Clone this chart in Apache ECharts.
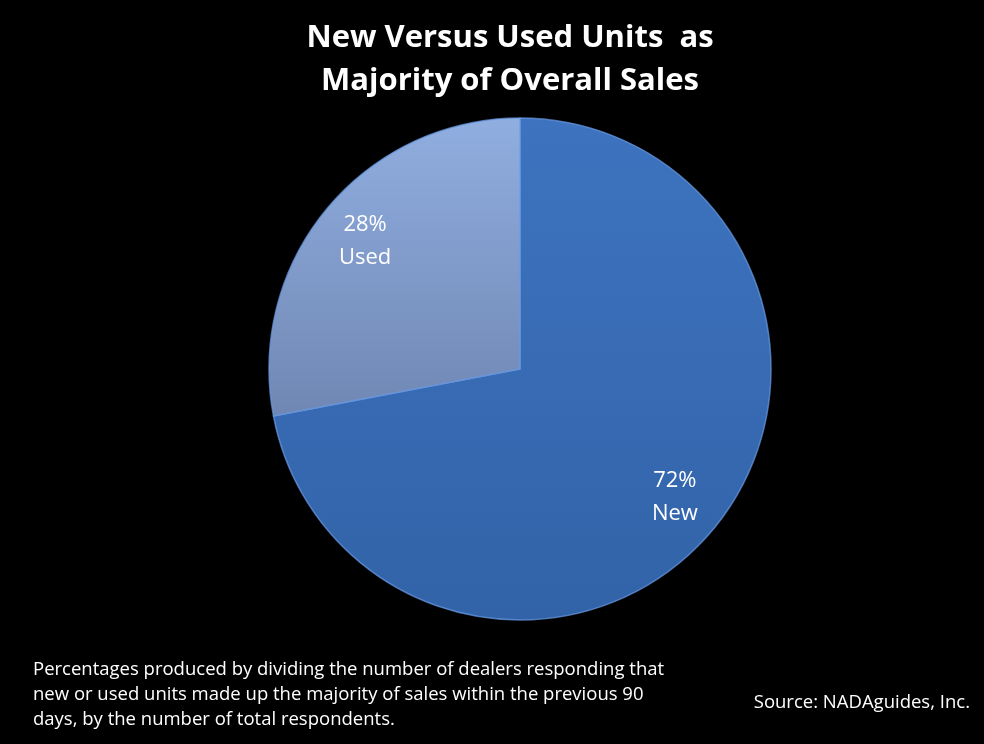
<!DOCTYPE html>
<html>
<head>
<meta charset="utf-8">
<script src="https://cdn.jsdelivr.net/npm/echarts@6/dist/echarts.min.js"></script>
<style>
  html, body { margin: 0; padding: 0; background: #000; }
  #chart { width: 984px; height: 744px; }
</style>
</head>
<body>
<div id="chart"></div>
<script>
// 新车 / 二手车 占比
var nameList = ['New', 'Used'];
var numList = [72, 28];
var titleLines = ['New Versus Used Units  as', 'Majority of Overall Sales'];
var noteLines = [
    'Percentages produced by dividing the number of dealers responding that',
    'new or used units made up the majority of sales within the previous 90',
    'days, by the number of total respondents.'
];
var sourceText = 'Source: NADAguides, Inc.';

var sliceColors = [
    {top: '#3d73bf', bottom: '#3263a8'},
    {top: '#90aee0', bottom: '#7087b3'}
];

function graphicNewUsed() {
    var myChart = echarts.init(document.getElementById('chart'));
    var pieData = [];
    for (var i = 0; i < nameList.length; i++) {
        pieData.push({
            name: nameList[i],
            value: numList[i],
            itemStyle: {
                color: new echarts.graphic.LinearGradient(0, 0, 0, 1, [
                    {offset: 0, color: sliceColors[i].top},
                    {offset: 1, color: sliceColors[i].bottom}
                ])
            }
        });
    }
    var font = '"Open Sans", "Noto Sans", sans-serif';
    var graphics = [];
    for (var t = 0; t < titleLines.length; t++) {
        graphics.push({
            type: 'text', x: 510, y: 38 + t * 43,
            style: {
                text: titleLines[t], fill: '#fff', align: 'center', verticalAlign: 'middle',
                font: 'bold 31px ' + font
            }
        });
    }
    for (var n = 0; n < noteLines.length; n++) {
        graphics.push({
            type: 'text', x: 33, y: 670 + n * 25,
            style: {
                text: noteLines[n], fill: '#fff', align: 'left', verticalAlign: 'middle',
                font: '18.5px ' + font
            }
        });
    }
    graphics.push({
        type: 'text', x: 970, y: 703,
        style: {
            text: sourceText, fill: '#fff', align: 'right', verticalAlign: 'middle',
            font: '18.5px ' + font
        }
    });

    var option = {
        backgroundColor: '#000',
        animation: false,
        graphic: graphics,
        series: [
            {
                type: 'pie',
                center: [520, 369],
                radius: 251,
                startAngle: 90,
                clockwise: true,
                silent: true,
                label: {show: false},
                labelLine: {show: false},
                itemStyle: {
                    borderColor: 'rgba(105,155,230,0.7)',
                    borderWidth: 1.5
                },
                data: pieData
            },
            {
                // 只用来放标签
                type: 'pie',
                center: [520, 369],
                radius: [145, 251],
                startAngle: 90,
                clockwise: true,
                silent: true,
                itemStyle: {color: 'rgba(0,0,0,0)'},
                label: {
                    show: true,
                    position: 'inside',
                    formatter: '{d}%\n{b}',
                    color: '#fff',
                    fontFamily: font,
                    fontSize: 22,
                    lineHeight: 33
                },
                labelLine: {show: false},
                data: nameList.map(function (nm, k) { return {name: nm, value: numList[k]}; })
            }
        ]
    };
    myChart.setOption(option);
}
graphicNewUsed();
</script>
</body>
</html>
